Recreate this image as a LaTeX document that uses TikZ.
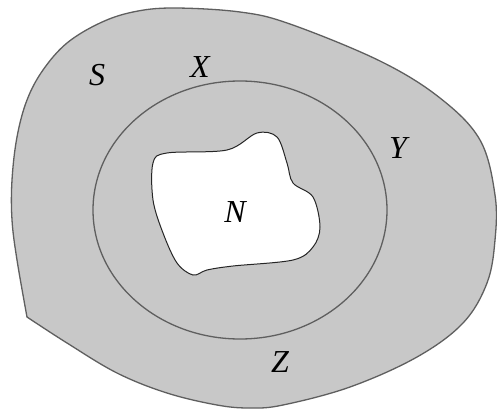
\documentclass[tikz,border=0pt]{standalone}
\usepackage{fontspec}
\setmainfont{Liberation Serif}
\definecolor{regionfill}{RGB}{200,200,200}
\definecolor{edgegray}{RGB}{95,95,95}
\begin{document}
\begin{tikzpicture}[x=1pt,y=-1pt,
  lbl/.style={font=\fontsize{32}{34}\selectfont\itshape, text=black, inner sep=0pt}]
\useasboundingbox (0,0) rectangle (497,412);
\fill[white] (0,0) rectangle (497,412);
% outer region S
\draw[fill=regionfill, draw=edgegray, line width=1.3pt]
  plot[smooth, tension=0.6] coordinates {(27,317) (67,343) (117,373) (167,393) (217,405)
  (250,408) (283,405) (350,387) (417,357) (463,323) (487,283) (495,240) (495,195)
  (480,140) (440,98) (380,61) (290,24) (240,12) (173,8) (133,12) (100,23) (67,43)
  (43,70) (27,100) (17,137) (12,180) (12,220) (17,260) (27,317)} -- cycle;
% circle
\draw[draw=edgegray, line width=1.3pt] (240,210) ellipse [x radius=147, y radius=129];
% inner region N
\draw[fill=white, draw=black!85, line width=1pt]
  plot[smooth cycle, tension=0.55] coordinates {(153,163) (167,153) (227,150) (257,133)
  (277,137) (287,163) (293,183) (313,197) (320,227) (313,247) (293,260) (233,266)
  (207,270) (193,275) (177,263) (163,233) (153,200)};
\node[lbl] (S) at (97,75) {S};
\node[lbl] (X) at (200,67) {X};
\node[lbl] (Y) at (398,148) {Y};
\node[lbl] (N) at (235,212) {N};
\node[lbl] (Z) at (280,362) {Z};
\end{tikzpicture}
\end{document}
